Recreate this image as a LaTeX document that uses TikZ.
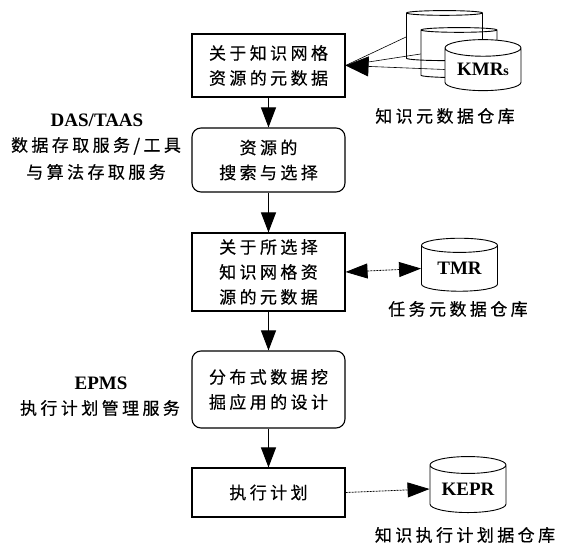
\documentclass[tikz,border=0pt]{standalone}
\usepackage{fontspec}
\usetikzlibrary{arrows.meta,shapes.geometric}
\setmainfont{Liberation Serif}
\newfontfamily\cjk[LetterSpace=20,FakeBold=0.4]{Noto Sans CJK SC}
\tikzset{
 flowbox/.style={draw,line width=1.1pt,minimum width=153pt,align=center,font=\fontsize{17}{25}\selectfont\cjk,inner sep=0pt},
 softbox/.style={flowbox,rounded corners=9pt},
 store/.style={draw,line width=0.9pt,cylinder,shape border rotate=90,aspect=0.32,minimum width=76pt,inner sep=0pt,font=\fontsize{19}{22}\selectfont\bfseries},
 note/.style={align=center,font=\fontsize{17}{27}\selectfont\cjk,inner sep=0pt},
 latin/.style={font=\fontsize{19}{22}\selectfont\bfseries,inner sep=0pt},
 bigarrow/.style={-{Triangle[length=20pt,width=15pt]},line width=1pt},
 thinarrow/.style={-{Triangle[length=22pt,width=15pt]},line width=0.6pt},
 meettip/.style={-{Triangle[length=23pt,width=20pt]},line width=0.6pt},
}
\begin{document}
\begin{tikzpicture}[x=1pt,y=-1pt]
\useasboundingbox (0,0) rectangle (562,546);
\node[flowbox,minimum height=63pt] (meta) at (268.5,65.5) {关于知识网格\\资源的元数据};
\node[softbox,minimum height=64pt] (search) at (268.5,160) {资源的\\搜索与选择};
\node[flowbox,minimum height=78pt] (sel) at (268.5,272) {关于所选择\\知识网格资\\源的元数据};
\node[softbox,minimum height=77pt] (design) at (268.5,389.5) {分布式数据挖\\掘应用的设计};
\node[flowbox,minimum height=49pt] (plan) at (268.5,492.5) {执行计划};
\node[store,minimum height=50pt] (kmra) at (444.5,37) {\phantom{K}};
\node[store,minimum height=50pt] (kmrb) at (459,54) {\phantom{K}};
\node[store,fill=white,minimum height=51pt] (kmrc) at (483,69.5) {\raisebox{-3pt}{KMR\fontsize{14}{16}\selectfont s}};
\node[store,fill=white,minimum height=53pt] (tmr) at (459.5,268.5) {\raisebox{-2pt}{TMR}};
\node[store,fill=white,minimum height=56pt] (kepr) at (468,489) {\raisebox{-2pt}{KEPR}};
\draw[bigarrow] (meta) -- (search);
\draw[bigarrow] (search) -- (sel);
\draw[bigarrow] (sel) -- (design);
\draw[bigarrow] (design) -- (plan);
\draw[line width=0.6pt] (kmra.west) -- (meta.east);
\draw[line width=0.6pt] (kmrb.west) -- (meta.east);
\draw[meettip] (kmrc.west) -- (meta.east);
\draw[{Triangle[length=22pt,width=15pt]}-{Triangle[length=22pt,width=15pt]},line width=0.8pt,dash pattern=on 2pt off 1pt] (sel.east) -- (tmr.west);
\draw[thinarrow,line width=0.8pt,dash pattern=on 2pt off 1pt] (plan.east) -- (kepr.west);
\node[note] (kmrnote) at (445,116) {知识元数据仓库};
\node[note] (tmrnote) at (458,309) {任务元数据仓库};
\node[note] (keprnote) at (465,535) {知识执行计划据仓库};
\node[latin] (das) at (97,120) {DAS/TAAS};
\node[note] (dasnote) at (96,158.5) {数据存取服务/工具\\与算法存取服务};
\node[latin] (epms) at (101,383) {EPMS};
\node[note] (epmsnote) at (100,408) {执行计划管理服务};
\end{tikzpicture}
\end{document}
